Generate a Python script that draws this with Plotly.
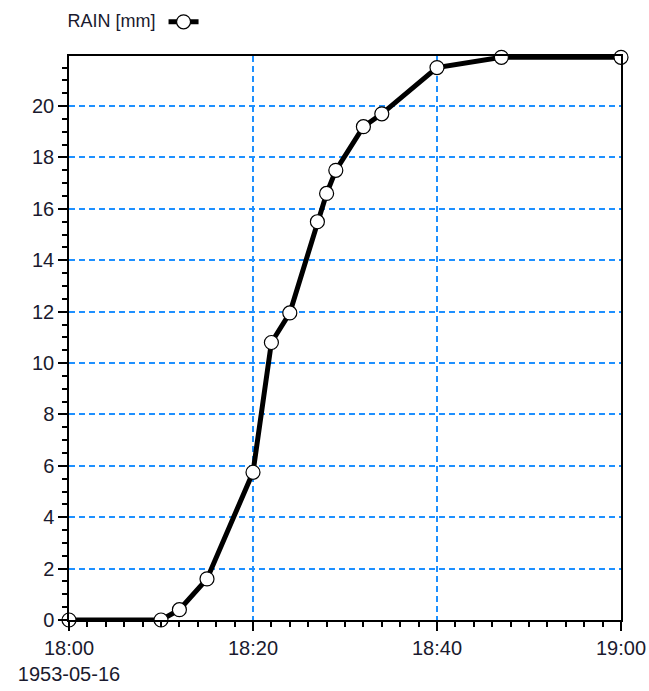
import plotly.graph_objects as go

times = ["18:00", "18:10", "18:12", "18:15", "18:20", "18:22", "18:24", "18:27",
         "18:28", "18:29", "18:32", "18:34", "18:40", "18:47", "19:00"]
rain_mm = [0.0, 0.0, 0.4, 1.6, 5.75, 10.8, 11.95, 15.5, 16.6, 17.5, 19.2, 19.7, 21.5, 21.9, 21.9]
date = "1953-05-16"
x_ticks = ["18:00", "18:20", "18:40", "19:00"]
x_ticktext = ["18:00<br>1953-05-16", "18:20", "18:40", "19:00"]
y_ticks = [0, 2, 4, 6, 8, 10, 12, 14, 16, 18, 20]

xs = [f"{date} {t}:00" for t in times]
font_family = "Liberation Sans, Arial, sans-serif"

fig = go.Figure()
fig.add_trace(go.Scatter(
    x=xs, y=rain_mm, mode="lines+markers", name="",
    line=dict(color="black", width=5),
    marker=dict(symbol="circle", size=14, color="white",
                line=dict(color="black", width=1.2)),
    cliponaxis=False,
    showlegend=True,
))

grid_col = "#1E90FF"
fig.update_layout(
    width=649, height=691,
    margin=dict(l=69, r=28, t=56, b=71, autoexpand=False),
    paper_bgcolor="white", plot_bgcolor="white",
    font=dict(family=font_family, color="#1a1a2e", size=20),
    showlegend=True,
    legend=dict(
        xref="container", yref="container",
        x=0.101, y=0.968, xanchor="left", yanchor="middle",
        orientation="h",
        title=dict(text="RAIN [mm]", side="left", font=dict(size=18, family=font_family)),
        font=dict(size=18),
        bgcolor="rgba(0,0,0,0)",
    ),
    xaxis=dict(
        type="date",
        automargin=False,
        range=[f"{date} 18:00:00", f"{date} 19:00:00"],
        tickvals=[f"{date} {t}:00" for t in x_ticks],
        ticktext=x_ticktext,
        ticks="outside", ticklen=9, tickwidth=1.5, tickcolor="black",
        showline=True, linecolor="black", linewidth=1.5, mirror=True,
        showgrid=True, gridcolor=grid_col, griddash="6px,4px", gridwidth=2,
        zeroline=False,
        tickfont=dict(size=20),
        minor=dict(dtick=2 * 60 * 1000, ticks="outside", ticklen=5,
                   tickwidth=1.5, tickcolor="black", showgrid=False),
        layer="above traces",
    ),
    yaxis=dict(
        automargin=False,
        range=[0, 21.95],
        tickvals=y_ticks,
        ticks="outside", ticklen=9, tickwidth=1.5, tickcolor="black",
        showline=True, linecolor="black", linewidth=1.5, mirror=True,
        showgrid=True, gridcolor=grid_col, griddash="6px,4px", gridwidth=2,
        zeroline=False,
        tickfont=dict(size=20),
        minor=dict(dtick=0.5, ticks="outside", ticklen=5,
                   tickwidth=1.5, tickcolor="black", showgrid=False),
        layer="above traces",
    ),
)

fig.write_html("out.html")
